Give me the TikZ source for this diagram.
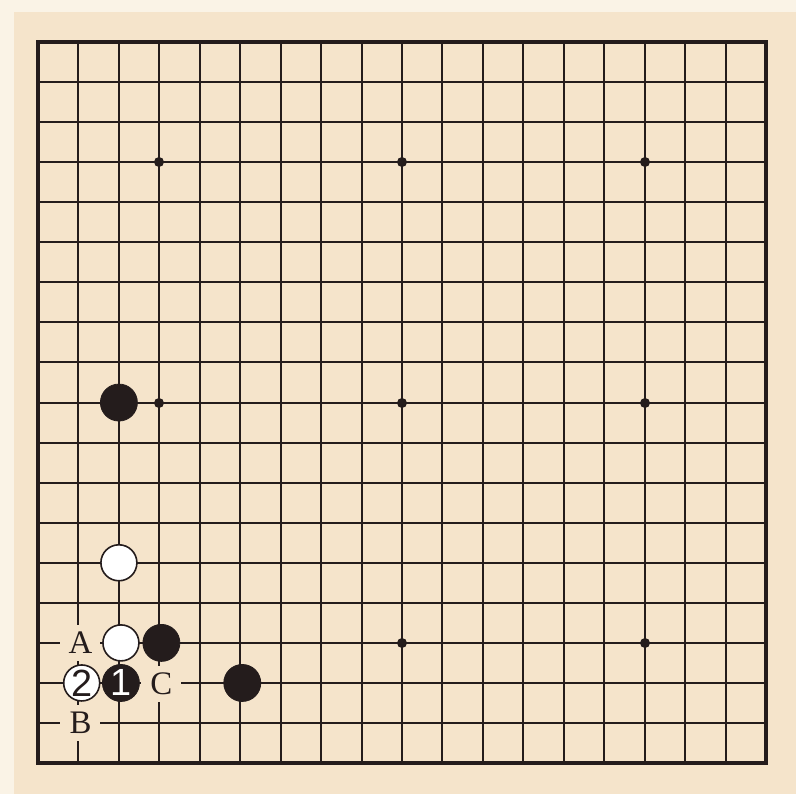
\documentclass[tikz,border=0pt]{standalone}
\usepackage{fontspec}
\setmainfont{Liberation Serif}
\newfontfamily\digitfont{Liberation Sans}
\definecolor{paper}{HTML}{F5E4CB}
\definecolor{paperpale}{HTML}{FAF3E6}
\definecolor{ink}{HTML}{241C1C}
\tikzset{
  gridline/.style={draw=ink, line width=2bp},
  boardedge/.style={draw=ink, line width=4bp},
  stardot/.style={circle, fill=ink, inner sep=0pt, minimum size=10bp},
  blackstone/.style={circle, fill=ink, draw=ink, line width=0.8bp, inner sep=0pt, minimum size=37bp, text=white, font=\digitfont\fontsize{38}{38}\selectfont},
  whitestone/.style={circle, fill=white, draw=ink, line width=1.6bp, inner sep=0pt, minimum size=36bp, text=ink, font=\digitfont\fontsize{38}{38}\selectfont},
  boardlabel/.style={rectangle, fill=paper, inner sep=0pt, minimum width=40bp, minimum height=36bp, text=ink, font=\fontsize{33}{33}\selectfont},
}
\begin{document}
\begin{tikzpicture}
\useasboundingbox (0bp,0bp) rectangle (796bp,-794bp);
\fill[paperpale] (0bp,0bp) rectangle (796bp,-794bp);
\fill[paper] (14bp,-12bp) rectangle (796bp,-794bp);
\foreach \i in {1,...,17} {
  \pgfmathsetmacro{\gx}{38+round(40.45*\i)}
  \pgfmathsetmacro{\gy}{42+round(40.06*\i)}
  \draw[gridline] (\gx bp,-42bp) -- (\gx bp,-763bp);
  \draw[gridline] (38bp,-\gy bp) -- (766bp,-\gy bp);
}
\draw[boardedge] (38bp,-42bp) rectangle (766bp,-763bp);
\foreach \c in {3,9,15} \foreach \r in {3,9,15} {
  \pgfmathsetmacro{\sx}{38+round(40.45*\c)}
  \pgfmathsetmacro{\sy}{42+round(40.06*\r)}
  \node[stardot] (star-\c-\r) at (\sx bp,-\sy bp) {};
}
\begin{scope}[shift={(38bp,-42bp)}, x=40.45bp, y=-40.06bp]
  \node[boardlabel] (labA) at (1.05,15) {A};
  \node[boardlabel] (labB) at (1.05,17) {B};
  \node[boardlabel] (labC) at (3.05,16.03) {C};
  \node[blackstone] (b1) at (2,9) {};
  \node[whitestone] (w1) at (2,13) {};
  \node[whitestone] (w2) at (2.05,15) {};
  \node[blackstone] (b2) at (3.05,15) {};
  \node[whitestone] (w3) at (1.08,16) {2};
  \node[blackstone] (b3) at (2.05,16) {1};
  \node[blackstone] (b4) at (5.05,16) {};
\end{scope}
\end{tikzpicture}
\end{document}
